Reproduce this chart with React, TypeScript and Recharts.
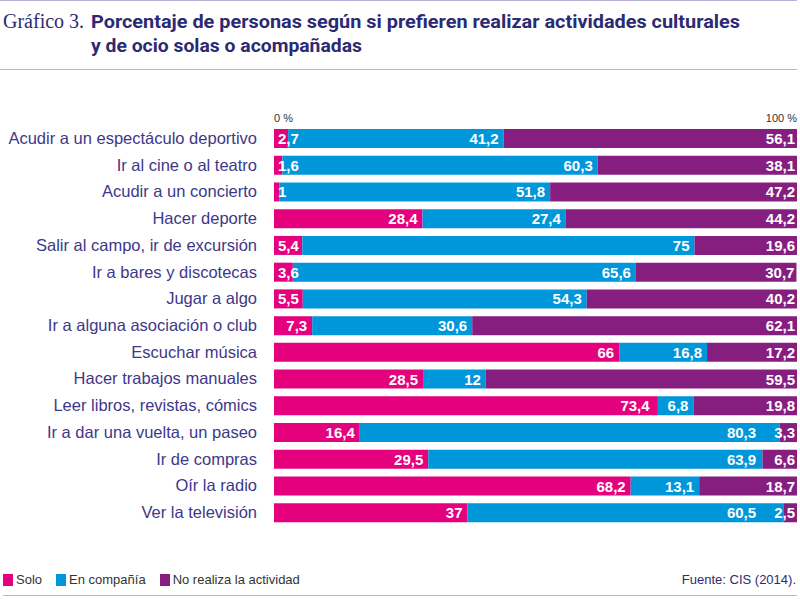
import React from 'react';
import { BarChart, Bar, XAxis, YAxis, LabelList } from 'recharts';

const categories = [
  'Acudir a un espectáculo deportivo',
  'Ir al cine o al teatro',
  'Acudir a un concierto',
  'Hacer deporte',
  'Salir al campo, ir de excursión',
  'Ir a bares y discotecas',
  'Jugar a algo',
  'Ir a alguna asociación o club',
  'Escuchar música',
  'Hacer trabajos manuales',
  'Leer libros, revistas, cómics',
  'Ir a dar una vuelta, un paseo',
  'Ir de compras',
  'Oír la radio',
  'Ver la televisión',
];

const solo = [2.7, 1.6, 1, 28.4, 5.4, 3.6, 5.5, 7.3, 66, 28.5, 73.4, 16.4, 29.5, 68.2, 37];
const enCompania = [41.2, 60.3, 51.8, 27.4, 75, 65.6, 54.3, 30.6, 16.8, 12, 6.8, 80.3, 63.9, 13.1, 60.5];
const noRealiza = [56.1, 38.1, 47.2, 44.2, 19.6, 30.7, 40.2, 62.1, 17.2, 59.5, 19.8, 3.3, 6.6, 18.7, 2.5];

const axisTicks = [0, 100];

const series = [
  { key: 'solo', name: 'Solo', color: '#e5007e' },
  { key: 'compania', name: 'En compañía', color: '#0096da' },
  { key: 'no', name: 'No realiza la actividad', color: '#861e80' },
];

const data = categories.map((name, i) => ({
  name,
  solo: solo[i],
  compania: enCompania[i],
  no: noRealiza[i],
}));

const NAVY = '#2b2a72';
const LABEL_COLOR = '#3d3889';
const LINE_COLOR = '#b5b1d8';
const VALUE_FONT = 15;

const fmt = (v: number) => String(v).replace('.', ',');

// rough width of a bold number label (Arial-like metrics)
const textWidth = (s: string) => {
  let w = 0;
  for (const c of s) w += c === ',' ? 0.278 : 0.556;
  return w * VALUE_FONT;
};

// right edges for the three labels of a row: inside the segment end,
// kept within the bar and pushed left when they'd hit the next label
function labelRights(row: number, x: number, width: number, seriesIdx: number) {
  const vals = [solo[row], enCompania[row], noRealiza[row]];
  const px = width / vals[seriesIdx];
  let before = 0;
  for (let i = 0; i < seriesIdx; i++) before += vals[i];
  const x0 = x - before * px;
  const x1 = x0 + 100 * px;
  const widths = vals.map((v) => textWidth(fmt(v)));
  const rights: number[] = [];
  let acc = 0;
  vals.forEach((v, i) => {
    acc += v;
    const end = x0 + acc * px;
    let r = end - (i === 2 ? 2 : 5);
    r = Math.max(r, x0 + 4 + widths[i]);
    r = Math.min(r, x1 - 2);
    rights.push(r);
  });
  for (let i = 1; i >= 0; i--) {
    const limit = rights[i + 1] - widths[i + 1] - 18;
    if (rights[i] > limit) rights[i] = limit;
  }
  return rights;
}

const makeLabel = (seriesIdx: number) => (props: any) => {
  const { x, y, width, height, value, index } = props;
  if (value == null) return null;
  const rights = labelRights(index, Number(x), Number(width), seriesIdx);
  return (
    <text
      x={rights[seriesIdx]}
      y={Number(y) + Number(height) / 2 + 5.5}
      textAnchor="end"
      fill="#fff"
      fontSize={VALUE_FONT}
      fontWeight="bold"
      fontFamily="'Liberation Sans', Arial, sans-serif"
    >
      {fmt(value)}
    </text>
  );
};

const CategoryTick = (props: any) => {
  const { x, y, payload } = props;
  return (
    <text
      x={x}
      y={y + 5.5}
      textAnchor="end"
      fill={LABEL_COLOR}
      fontSize={16.5}
      fontFamily="'Liberation Sans', Arial, sans-serif"
    >
      {payload.value}
    </text>
  );
};

const PercentTick = (props: any) => {
  const { x, y, payload } = props;
  return (
    <text
      x={x}
      y={y}
      textAnchor={payload.value === 0 ? 'start' : 'end'}
      fill="#333"
      fontSize={11}
      fontFamily="'Liberation Sans', Arial, sans-serif"
    >
      {payload.value} %
    </text>
  );
};

export default function App() {
  return (
    <div style={{ position: 'absolute', left: 0, top: 0, width: 800, height: 602, background: '#fff' }}>
      <svg width={800} height={80} style={{ position: 'absolute', left: 0, top: 0 }}>
        <line x1={0} x2={797} y1={0.5} y2={0.5} stroke={LINE_COLOR} strokeWidth={1} />
        <text x={3} y={28} fill={NAVY} fontSize={20} fontFamily="'Liberation Serif', 'DejaVu Serif', serif">
          Gráfico 3.
        </text>
        <text
          x={91}
          y={28}
          fill={NAVY}
          fontSize={19}
          fontWeight="bold"
          fontFamily="Roboto, 'Liberation Sans', sans-serif"
          textLength={649}
          lengthAdjust="spacingAndGlyphs"
        >
          Porcentaje de personas según si prefieren realizar actividades culturales
        </text>
        <text
          x={91}
          y={52}
          fill={NAVY}
          fontSize={19}
          fontWeight="bold"
          fontFamily="Roboto, 'Liberation Sans', sans-serif"
          textLength={271}
          lengthAdjust="spacingAndGlyphs"
        >
          y de ocio solas o acompañadas
        </text>
        <line x1={0} x2={797} y1={69.5} y2={69.5} stroke={LINE_COLOR} strokeWidth={1} />
      </svg>

      <div style={{ position: 'absolute', left: 0, top: 0 }}>
        <BarChart
          width={800}
          height={602}
          data={data}
          layout="vertical"
          margin={{ top: 105, right: 3, bottom: 76, left: 0 }}
          barSize={19}
        >
          <XAxis
            type="number"
            orientation="top"
            domain={[0, 100]}
            ticks={axisTicks}
            height={20}
            axisLine={false}
            tickLine={false}
            tickSize={0}
            tickMargin={3}
            tick={<PercentTick />}
            interval={0}
          />
          <YAxis
            type="category"
            dataKey="name"
            width={274}
            axisLine={false}
            tickLine={false}
            tickSize={0}
            tickMargin={17}
            tick={<CategoryTick />}
            interval={0}
          />
          {series.map((s, i) => (
            <Bar key={s.key} dataKey={s.key} name={s.name} stackId="a" fill={s.color} isAnimationActive={false}>
              <LabelList dataKey={s.key} content={makeLabel(i)} />
            </Bar>
          ))}
        </BarChart>
      </div>

      <div
        style={{
          position: 'absolute',
          left: 3,
          top: 572,
          display: 'flex',
          alignItems: 'center',
          fontFamily: "'Liberation Sans', Arial, sans-serif",
          fontSize: 13,
          color: '#333',
        }}
      >
        {series.map((s) => (
          <span key={s.key} style={{ display: 'flex', alignItems: 'center', marginRight: 14 }}>
            <span style={{ width: 10, height: 12, background: s.color, display: 'inline-block', marginRight: 3 }} />
            {s.name}
          </span>
        ))}
      </div>
      <div
        style={{
          position: 'absolute',
          right: 4,
          top: 572,
          fontFamily: "'Liberation Sans', Arial, sans-serif",
          fontSize: 13,
          color: NAVY,
        }}
      >
        Fuente: CIS (2014).
      </div>
      <div style={{ position: 'absolute', left: 3, top: 595, width: 794, height: 1, background: LINE_COLOR }} />
    </div>
  );
}
